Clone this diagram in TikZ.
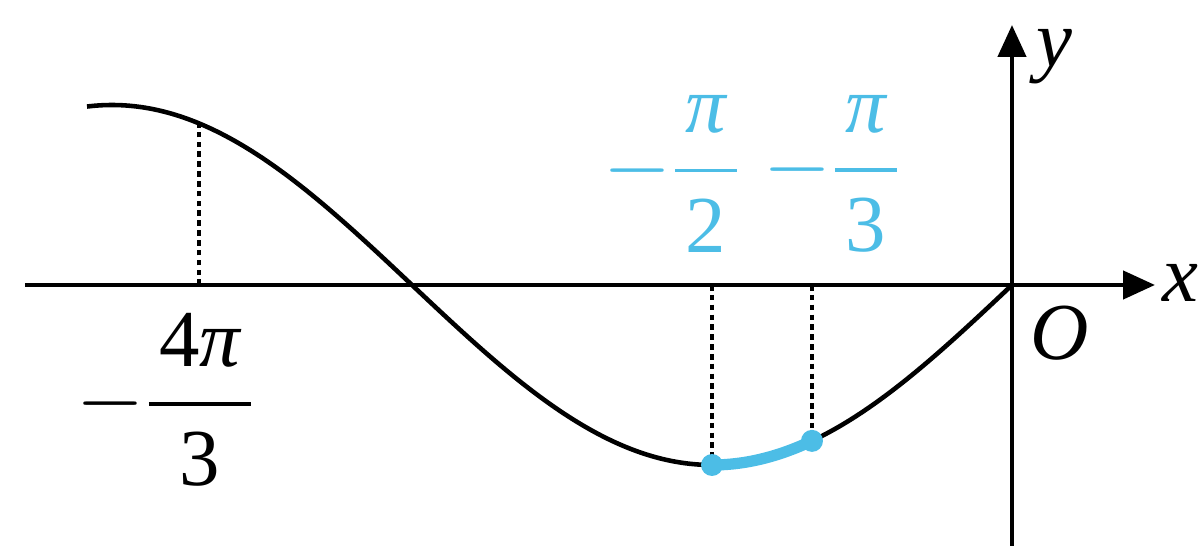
\documentclass[tikz,border=0pt]{standalone}
\usepackage{amsmath}
\usepackage{fontspec}
\setmainfont{Liberation Serif}
\usetikzlibrary{arrows.meta}
\definecolor{accent}{HTML}{4CBDE6}
\newcommand{\tpi}{\mbox{\itshape π}}
\newcommand{\tnum}[1]{\mbox{\hspace{3pt}#1\hspace{3pt}}}

\begin{document}
\begin{tikzpicture}[
  axis/.style={line width=1.3pt, -{Triangle[length=0.32cm, width=0.28cm]}},
  drop/.style={line width=1.1pt, dash pattern=on 1.6pt off 1.2pt},
  lbl/.style={font=\fontsize{23}{27}\selectfont, inner sep=0pt}
]
  \useasboundingbox (-10.12,-2.61) rectangle (1.89,2.85);

  % Axes
  \coordinate (xl) at (-9.87,0);
  \coordinate (xr) at (1.43,0);
  \coordinate (yb) at (0,-2.61);
  \coordinate (yt) at (0,2.60);
  \draw[axis] (xl) -- (xr);
  \draw[axis] (yb) -- (yt);
  \node[lbl] (xlab) at (1.68,0.02) {\itshape x};
  \node[lbl] (ylab) at (0.42,2.28) {\itshape y};
  \node[lbl] (olab) at (0.48,-0.48) {\itshape O};

  % Sine curve
  \draw[line width=1.3pt] plot[domain=-4.843:0, samples=120, smooth]
    ({\x*1.9099},{1.8*sin(\x r)});

  % Points on the curve
  \coordinate (pa) at ({-4.257*1.9099},{1.8*sin(-4.257 r)});
  \coordinate (pb) at (-3,-1.8);
  \coordinate (pc) at (-2,{-1.8*sin(60)});
  \coordinate (fa) at (pa |- xl);
  \coordinate (fb) at (pb |- xl);
  \coordinate (fc) at (pc |- xl);

  % Drop lines
  \draw[drop] (fa) -- (pa);
  \draw[drop] (fb) -- (pb);
  \draw[drop] (fc) -- (pc);

  % Highlighted arc
  \draw[accent, line width=3.2pt] plot[domain=-pi/2:-pi/3, samples=30, smooth]
    ({\x*1.9099},{1.8*sin(\x r)});
  \fill[accent] (pb) circle (0.11);
  \fill[accent] (pc) circle (0.11);

  % Labels
  \node[lbl, text=accent] (lb) at (-3.40,1.11) {$-\dfrac{\tpi}{\tnum{2}}$};
  \node[lbl, text=accent] (lc) at (-1.80,1.11) {$-\dfrac{\tpi}{\tnum{3}}$};
  \node[lbl] (la) at (-8.46,-1.15) {$-\dfrac{\tnum{4\tpi}}{\tnum{3}}$};
\end{tikzpicture}
\end{document}
